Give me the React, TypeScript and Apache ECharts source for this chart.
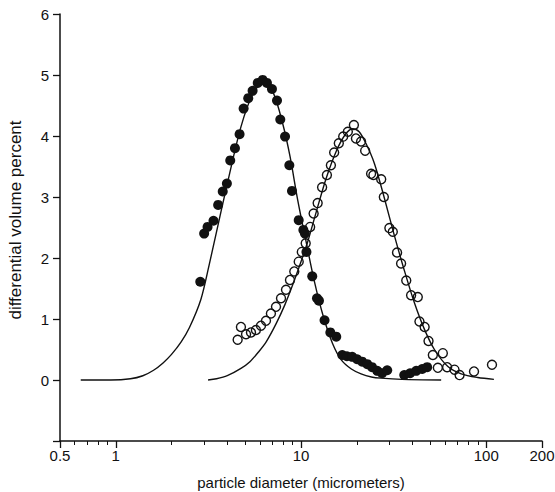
import React, { useEffect, useRef } from "react";
import * as echarts from "echarts";

// particle diameter (micrometers) and differential volume percent
const filledD = [2.86, 3.0, 3.13, 3.37, 3.57, 3.78, 3.98, 4.15, 4.4, 4.66, 4.9, 5.19, 5.48, 5.84, 6.21, 6.55, 6.97, 7.42, 7.73, 8.2, 8.65, 8.94, 9.72, 10.3, 10.5, 10.7, 11.5, 12.2, 12.5, 13.4, 14.4, 15.5, 16.7, 17.7, 18.9, 20.1, 21.4, 22.8, 24.2, 25.8, 27.4, 29.2, 36.1, 38.8, 41.9, 45.1, 48.0];
const filledV = [1.61, 2.4, 2.51, 2.61, 2.87, 3.09, 3.22, 3.6, 3.8, 4.03, 4.45, 4.62, 4.74, 4.87, 4.92, 4.87, 4.77, 4.58, 4.27, 3.99, 3.52, 3.1, 2.62, 2.46, 2.4, 2.1, 1.7, 1.34, 1.3, 0.98, 0.78, 0.71, 0.41, 0.39, 0.38, 0.34, 0.3, 0.26, 0.21, 0.15, 0.11, 0.16, 0.08, 0.11, 0.15, 0.18, 0.21];

const openD = [4.55, 4.74, 5.05, 5.37, 5.71, 6.08, 6.47, 6.88, 7.33, 7.8, 8.3, 8.72, 9.2, 9.72, 10.1, 10.6, 11.2, 11.7, 12.3, 13.0, 13.8, 14.5, 15.1, 16.0, 16.9, 17.9, 19.3, 19.8, 21.1, 22.2, 23.9, 24.6, 27.1, 28.0, 30.0, 31.3, 33.0, 34.7, 37.0, 39.3, 42.7, 43.6, 46.5, 48.8, 51.5, 58.3, 54.8, 61.5, 67.4, 71.8, 85.9, 107.4];
const openV = [0.66, 0.87, 0.75, 0.78, 0.82, 0.89, 0.97, 1.09, 1.2, 1.34, 1.48, 1.64, 1.78, 1.94, 2.1, 2.24, 2.51, 2.73, 2.9, 3.16, 3.36, 3.52, 3.73, 3.88, 3.99, 4.07, 4.18, 3.96, 3.91, 3.76, 3.38, 3.36, 3.29, 3.0, 2.49, 2.43, 2.09, 1.91, 1.63, 1.39, 1.36, 0.96, 0.87, 0.64, 0.41, 0.44, 0.2, 0.21, 0.17, 0.08, 0.14, 0.25];

const fit1D = [0.647, 0.94, 1.2, 1.4, 1.6, 1.8, 2.0, 2.25, 2.5, 2.88, 3.2, 3.47, 4.03, 4.74, 5.51, 6.24, 7.06, 8.0, 8.73, 9.6, 10.6, 11.8, 13.2, 14.8, 16.5, 18.7, 21.1, 24.0, 27.1, 35.0, 57.1];
const fit1V = [0, 0, 0.02, 0.07, 0.16, 0.28, 0.42, 0.62, 0.86, 1.32, 1.9, 2.38, 3.26, 4.15, 4.7, 4.87, 4.72, 4.18, 3.66, 2.95, 2.3, 1.62, 1.04, 0.6, 0.33, 0.18, 0.1, 0.05, 0.03, 0.01, 0];

const fit2D = [3.15, 3.5, 4.0, 4.74, 5.3, 5.9, 6.5, 7.33, 8.2, 9.02, 9.9, 10.9, 12.1, 13.65, 15.5, 17.3, 19.0, 20.6, 22.4, 24.9, 28.2, 31.9, 36.1, 40.9, 46.4, 52.5, 62.1, 73.3, 90, 110];
const fit2V = [0, 0.02, 0.07, 0.19, 0.3, 0.46, 0.63, 0.92, 1.24, 1.56, 1.9, 2.28, 2.76, 3.3, 3.75, 4.02, 4.12, 4.07, 3.88, 3.55, 2.98, 2.37, 1.8, 1.27, 0.83, 0.5, 0.22, 0.1, 0.04, 0.01];

const xMajorTicks = [0.5, 1, 10, 100, 200];
const xMajorLabels = ["0.5", "1", "10", "100", "200"];
const xMinorTicks = [0.6, 0.7, 0.8, 0.9, 2, 3, 4, 5, 6, 7, 8, 9, 20, 30, 40, 50, 60, 70, 80, 90];
const yMin = -1;
const yMax = 6;

const lg = (v: number) => Math.log10(v);
const pairs = (d: number[], v: number[]) => d.map((x, i) => [lg(x), v[i]]);

const INK = "#111111";
const FONT = "Liberation Sans, Arial, Helvetica, sans-serif";

export default function App() {
  const ref = useRef<HTMLDivElement>(null);
  useEffect(() => {
    if (!ref.current) return;
    const chart = echarts.init(ref.current, null, { renderer: "svg" });
    const xmin = lg(0.5);
    const xmax = lg(200);
    const commonX = {
      type: "value",
      min: xmin,
      max: xmax,
      position: "bottom",
      splitLine: { show: false },
    };
    const fitLine = (d: number[], v: number[], name: string) => ({
      type: "line",
      name,
      data: pairs(d, v),
      smooth: 0.3,
      showSymbol: false,
      symbol: "none",
      lineStyle: { color: INK, width: 1.4 },
      z: 2,
    });
    chart.setOption({
      animation: false,
      backgroundColor: "#ffffff",
      grid: { left: 60, right: 13, top: 14, bottom: 51, containLabel: false, outerBoundsMode: "none" },
      xAxis: [
        {
          ...commonX,
          name: "particle diameter (micrometers)",
          nameLocation: "middle",
          nameGap: 34,
          nameTextStyle: { fontFamily: FONT, fontSize: 15, color: INK },
          axisLine: { show: true, onZero: false, lineStyle: { color: INK, width: 1.5 } },
          axisTick: {
            show: true,
            inside: false,
            length: 7,
            customValues: xMajorTicks.map(lg),
            lineStyle: { color: INK, width: 1.3 },
          },
          axisLabel: {
            show: true,
            margin: 7,
            fontFamily: FONT,
            fontSize: 15,
            color: INK,
            customValues: xMajorTicks.map(lg),
            formatter: (v: number) => {
              let best = 0;
              xMajorTicks.forEach((t, i) => {
                if (Math.abs(lg(t) - v) < Math.abs(lg(xMajorTicks[best]) - v)) best = i;
              });
              return xMajorLabels[best];
            },
          },
        },
        {
          ...commonX,
          axisLine: { show: false, onZero: false },
          axisTick: {
            show: true,
            inside: false,
            length: 4,
            customValues: xMinorTicks.map(lg),
            lineStyle: { color: INK, width: 1 },
          },
          axisLabel: { show: false },
        },
      ],
      yAxis: {
        type: "value",
        min: yMin,
        max: yMax,
        interval: 1,
        name: "differential volume percent",
        nameLocation: "middle",
        nameGap: 36,
        nameTextStyle: { fontFamily: FONT, fontSize: 17, color: INK, padding: [0, 0, 0, 15] },
        splitLine: { show: false },
        axisLine: { show: true, onZero: false, lineStyle: { color: INK, width: 1.5 } },
        axisTick: { show: true, inside: false, length: 7, lineStyle: { color: INK, width: 1.3 } },
        axisLabel: {
          margin: 11,
          fontFamily: FONT,
          fontSize: 15,
          color: INK,
          formatter: (v: number) => (v < 0 ? "" : String(v)),
        },
      },
      series: [
        fitLine(fit1D, fit1V, "fit small"),
        fitLine(fit2D, fit2V, "fit large"),
        {
          type: "scatter",
          name: "small particles",
          data: pairs(filledD, filledV),
          symbol: "circle",
          symbolSize: 10,
          itemStyle: { color: INK, borderColor: INK, borderWidth: 0, opacity: 1 },
          z: 3,
        },
        {
          type: "scatter",
          name: "large particles",
          data: pairs(openD, openV),
          symbol: "circle",
          symbolSize: 9,
          itemStyle: { color: "rgba(255,255,255,0)", borderColor: INK, borderWidth: 1.4, opacity: 1 },
          z: 4,
        },
      ],
    });
    return () => chart.dispose();
  }, []);
  return (
    <div
      ref={ref}
      style={{ position: "fixed", left: 0, top: 0, width: 555, height: 492, background: "#fff" }}
    />
  );
}
